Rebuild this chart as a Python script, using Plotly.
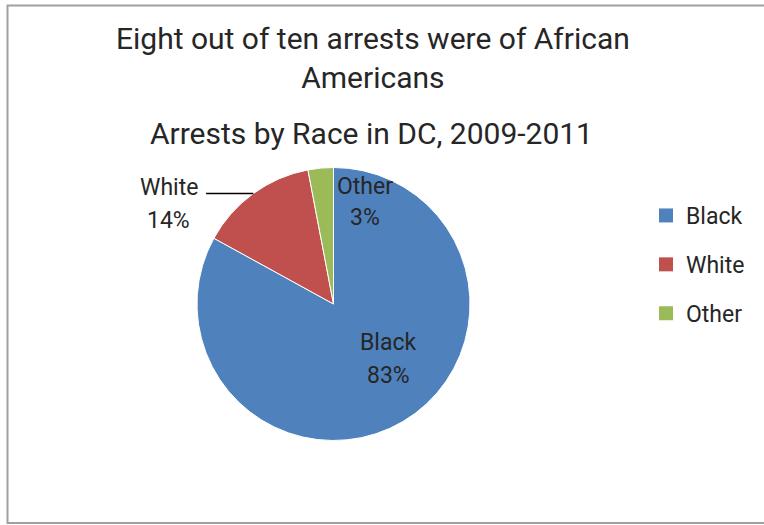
import math
import plotly.graph_objects as go

# Arrests by race, Washington DC, 2009-2011 (share of all arrests, %)
races = ["Black", "White", "Other"]
shares = [83, 14, 3]
colors = ["#4F81BD", "#C0504D", "#9BBB59"]

W, H = 764, 525
FONT = "Roboto"
TEXT = "#262626"

# Pie geometry in pixels
cx, cy, r = 333.5, 304, 136.5


def px(x):
    return x / W


def py(y):
    return 1 - y / H


fig = go.Figure()

fig.add_trace(go.Pie(
    labels=races,
    values=shares,
    sort=False,
    direction="clockwise",
    rotation=0,
    textinfo="none",
    hoverinfo="label+percent",
    marker=dict(colors=colors, line=dict(color="white", width=1)),
    domain=dict(x=[px(cx - r), px(cx + r)], y=[py(cy + r), py(cy - r)]),
    showlegend=False,
))

# Legend entries, one group per race so the rows can be spaced apart
for name, col in zip(races, colors):
    fig.add_trace(go.Scatter(
        x=[None], y=[None], mode="markers", name=name, legendgroup=name,
        marker=dict(symbol="square", size=14, color=col),
    ))

# Mid-angle of the White slice, used to anchor its leader line on the rim
total = sum(shares)
start = shares[0] / total
mid = start + shares[1] / total / 2
ang = math.radians(90 - mid * 360)
rim_x, rim_y = cx + r * math.cos(ang), cy - r * math.sin(ang)

fig.add_shape(type="line", xref="paper", yref="paper",
              x0=px(206), y0=py(rim_y), x1=px(rim_x), y1=py(rim_y),
              line=dict(color="#000000", width=1.4))

# Slice labels: name line and percentage line
label_pos = {"Black": (388, 342, 375), "White": (168.5, 187, 220),
             "Other": (365, 186, 217)}
for name, val in zip(races, shares):
    lx, ly1, ly2 = label_pos[name]
    for txt, ly in ((name, ly1), (f"{val}%", ly2)):
        fig.add_annotation(x=px(lx), y=py(ly), xref="paper", yref="paper",
                           text=txt, showarrow=False,
                           font=dict(family=FONT, size=23, color=TEXT),
                           xanchor="center", yanchor="middle")

# Chart border
fig.add_shape(type="rect", xref="paper", yref="paper",
              x0=px(7.5), y0=py(523), x1=px(780), y1=py(5.5),
              line=dict(color="#A0A0A4", width=2))

fig.add_annotation(x=px(373), y=py(58), xref="paper", yref="paper",
                   text="Eight out of ten arrests were of African<br>Americans",
                   showarrow=False, align="center",
                   font=dict(family=FONT, size=30, color=TEXT),
                   xanchor="center", yanchor="middle")
fig.add_annotation(x=px(371), y=py(133), xref="paper", yref="paper",
                   text="Arrests by Race in DC, 2009-2011",
                   showarrow=False,
                   font=dict(family=FONT, size=30, color=TEXT),
                   xanchor="center", yanchor="middle")

fig.update_layout(
    width=W, height=H,
    margin=dict(l=0, r=0, t=0, b=0),
    paper_bgcolor="white", plot_bgcolor="white",
    xaxis=dict(visible=False), yaxis=dict(visible=False),
    legend=dict(x=px(646), y=py(194), xanchor="left", yanchor="top",
                font=dict(family=FONT, size=23, color=TEXT),
                tracegroupgap=16, bgcolor="rgba(0,0,0,0)"),
    font=dict(family=FONT),
)

fig.write_html("out.html")
